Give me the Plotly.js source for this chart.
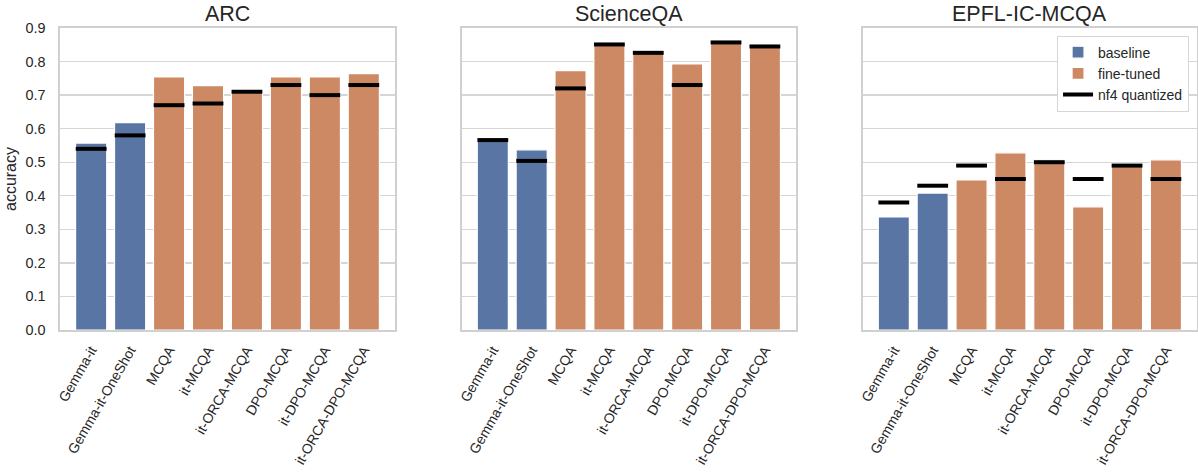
<!DOCTYPE html>
<html>
<head>
<meta charset="utf-8">
<script src="https://cdn.plot.ly/plotly-3.0.1.min.js"></script>
<style>html,body{margin:0;padding:0;background:#fff;}#chart{width:1198px;height:473px;}</style>
</head>
<body>
<div id="chart"></div>
<script>
const categories = ['Gemma-it','Gemma-it-OneShot','MCQA','it-MCQA','it-ORCA-MCQA','DPO-MCQA','it-DPO-MCQA','it-ORCA-DPO-MCQA'];
const groups = ['baseline','baseline','fine-tuned','fine-tuned','fine-tuned','fine-tuned','fine-tuned','fine-tuned'];
const datasets = ['ARC','ScienceQA','EPFL-IC-MCQA'];
const arcAcc = [0.557, 0.618, 0.754, 0.728, 0.707, 0.754, 0.754, 0.764];
const arcNf4 = [0.540, 0.580, 0.670, 0.675, 0.710, 0.730, 0.700, 0.730];
const sciAcc = [0.564, 0.537, 0.773, 0.849, 0.826, 0.793, 0.855, 0.851];
const sciNf4 = [0.566, 0.504, 0.720, 0.851, 0.826, 0.730, 0.857, 0.845];
const epflAcc = [0.337, 0.408, 0.447, 0.528, 0.507, 0.367, 0.488, 0.507];
const epflNf4 = [0.380, 0.430, 0.490, 0.450, 0.500, 0.450, 0.490, 0.450];
const accs = [arcAcc, sciAcc, epflAcc];
const nf4s = [arcNf4, sciNf4, epflNf4];

const colors = {'baseline':'#5975a4','fine-tuned':'#cc8963'};
const txt = '#262626';
const fontFam = 'Liberation Sans, Arial, sans-serif';
const domains = [[0, 0.2946], [0.3533, 0.6473], [0.706, 1]];

const traces = [];
const layout = {
  width: 1198, height: 473,
  margin: {l: 60, r: 1, t: 28, b: 143},
  paper_bgcolor: '#fff', plot_bgcolor: '#fff',
  barmode: 'overlay',
  font: {family: fontFam, color: txt, size: 14},
  showlegend: true,
  legend: {
    x: 0.993, xanchor: 'right', y: 0.975, yanchor: 'top',
    bordercolor: '#d6d6d6', borderwidth: 1, bgcolor: '#fff',
    font: {size: 14, color: txt}, tracegroupgap: 0
  },
  annotations: []
};

datasets.forEach((ds, k) => {
  const xa = k === 0 ? 'x' : 'x' + (k + 1);
  const ya = k === 0 ? 'y' : 'y' + (k + 1);
  ['baseline','fine-tuned'].forEach(g => {
    const xs = [], ys = [];
    categories.forEach((c, i) => { if (groups[i] === g) { xs.push(c); ys.push(accs[k][i]); } });
    traces.push({
      type: 'bar', x: xs, y: ys, xaxis: xa, yaxis: ya, width: 0.8,
      name: g, legendgroup: g, showlegend: k === 2,
      marker: {color: colors[g], line: {color: '#ffffff', width: 1.2}},
      hoverinfo: 'x+y'
    });
  });
  traces.push({
    type: 'scatter', mode: 'markers', x: categories, y: nf4s[k], xaxis: xa, yaxis: ya,
    name: 'nf4 quantized', showlegend: false, legendgroup: 'nf4',
    marker: {symbol: 'line-ew', size: 22, color: '#000', line: {color: '#000', width: 4}},
    cliponaxis: false
  });
  const axSuffix = k === 0 ? '' : String(k + 1);
  layout['xaxis' + axSuffix] = {
    domain: domains[k], anchor: ya, type: 'category',
    categoryorder: 'array', categoryarray: categories,
    range: [-0.8, 7.8], tickangle: -60, showgrid: false, zeroline: false,
    showline: true, mirror: true, linecolor: '#d0d0d0', linewidth: 1.6,
    ticks: '', ticklabelstandoff: 5, tickfont: {size: 14, color: txt}, fixedrange: true
  };
  layout['yaxis' + axSuffix] = {
    domain: [0, 1], anchor: xa, range: [0, 0.9],
    tickvals: [0,0.1,0.2,0.3,0.4,0.5,0.6,0.7,0.8,0.9],
    ticktext: ['0.0','0.1','0.2','0.3','0.4','0.5','0.6','0.7','0.8','0.9'],
    showticklabels: k === 0, showgrid: true, gridcolor: '#d6d6d6', gridwidth: 1.3,
    zeroline: false, showline: true, mirror: true, linecolor: '#d0d0d0', linewidth: 1.6,
    ticks: '', ticklabelstandoff: 10, tickfont: {size: 14.4, color: txt}, fixedrange: true,
    title: k === 0 ? {text: 'accuracy', font: {size: 16, color: txt}, standoff: 5} : {text: ''}
  };
  layout.annotations.push({
    text: ds, xref: 'paper', yref: 'paper',
    x: (domains[k][0] + domains[k][1]) / 2, y: 1.047, xanchor: 'center', yanchor: 'middle',
    showarrow: false, font: {size: 21.5, color: txt}
  });
});

// legend entry for the quantized markers
traces.push({
  type: 'scatter', mode: 'lines', x: [null], y: [null], xaxis: 'x3', yaxis: 'y3',
  name: 'nf4 quantized', legendgroup: 'nf4', showlegend: true,
  line: {color: '#000', width: 4}, hoverinfo: 'skip'
});

Plotly.newPlot('chart', traces, layout, {displayModeBar: false, staticPlot: true});
</script>
</body>
</html>
